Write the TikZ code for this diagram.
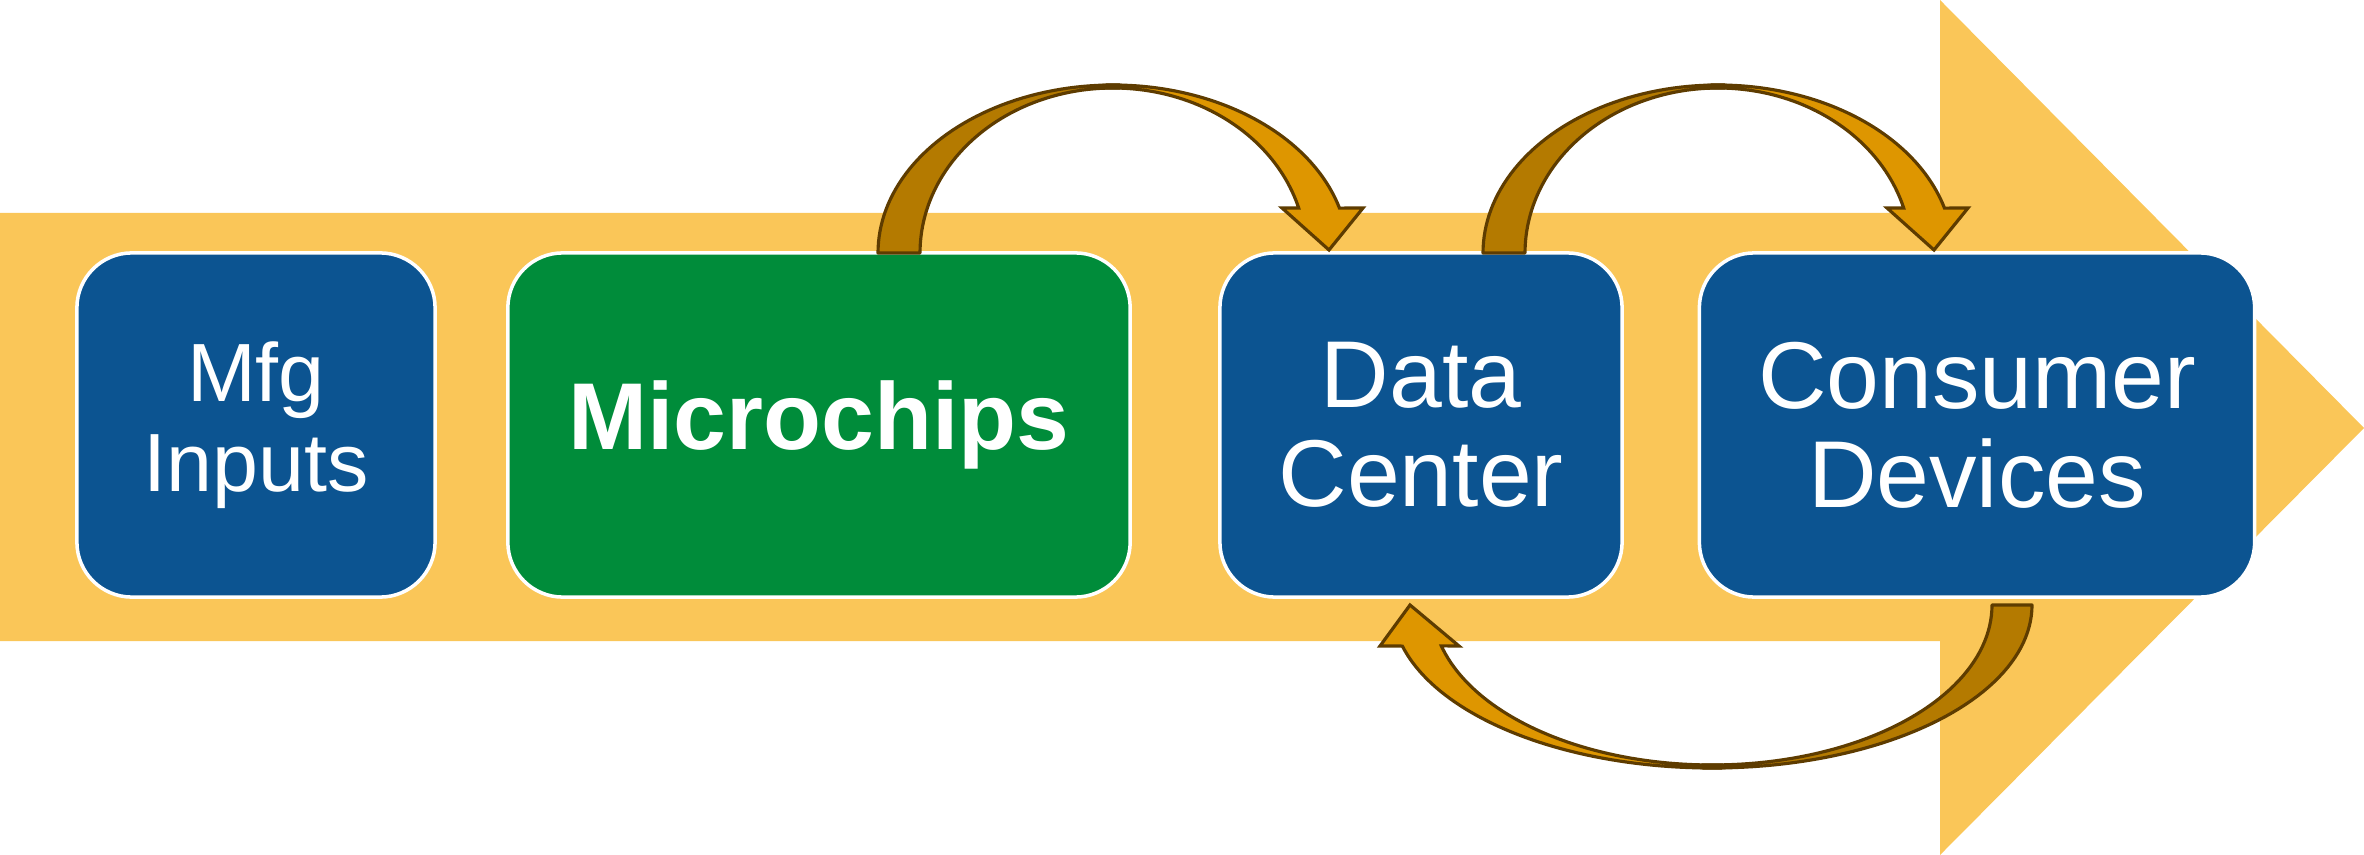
\documentclass[tikz,border=0pt]{standalone}
\usepackage{fontspec}
\setmainfont{Liberation Sans}
\definecolor{bandy}{HTML}{FAC658}
\definecolor{boxblue}{HTML}{0C5491}
\definecolor{boxgreen}{HTML}{008C3A}
\definecolor{arrdark}{HTML}{B47A00}
\definecolor{arrlight}{HTML}{DE9600}
\definecolor{arredge}{HTML}{5E3C00}
\tikzset{
  stagebox/.style={rounded corners=0.55cm, fill=boxblue, draw=white, line width=1pt,
    minimum height=3.44cm, text=white, align=center,
    font=\fontsize{27}{28.2}\selectfont, inner sep=0pt},
  backpart/.style={fill=arrdark, draw=arredge, line width=0.9pt, line join=round},
  frontpart/.style={fill=arrlight, draw=arredge, line width=0.9pt, line join=miter},
}
\begin{document}
\begin{tikzpicture}[x=0.01cm, y=-0.01cm]
\useasboundingbox (0,0) rectangle (2364,855);
% big background arrow
\fill[bandy] (0,213) -- (1940,213) -- (1940,0) -- (2364,428) -- (1940,855) -- (1940,641) -- (0,641) -- cycle;
% stage boxes
\node[stagebox, minimum width=3.58cm, font=\fontsize{23.5}{25.6}\selectfont] (mfg) at (256,425) {Mfg\\Inputs};
\node[stagebox, minimum width=6.22cm, fill=boxgreen, font=\fontsize{27}{28.2}\selectfont\bfseries] (chips) at (819,425) {Microchips};
\node[stagebox, minimum width=4.02cm] (dc) at (1421,425) {Data\\Center};
\node[stagebox, minimum width=5.55cm] (cons) at (1977,425) {Consumer\\Devices};
% top curved arrows
\foreach \s in {0,605}{
  \begin{scope}[xshift=\s*0.01cm]
  \filldraw[backpart] plot[domain=180:88, samples=50] ({1113+235*cos(\x)},{253-168*sin(\x)})
     -- plot[domain=88:180, samples=50] ({1113+193*cos(\x)},{253-165*sin(\x)}) -- cycle;
  \filldraw[frontpart] plot[domain=92:15.5, samples=50] ({1113+235*cos(\x)},{253-168*sin(\x)})
     -- (1363,208) -- (1329,250) -- (1282,208)
     -- plot[domain=15.8:92, samples=50] ({1113+193*cos(\x)},{253-165*sin(\x)}) -- cycle;
  \end{scope}
}
% bottom curved arrow
\filldraw[backpart] plot[domain=0:92, samples=50] ({1712+320*cos(\x)},{605+163*sin(\x)})
   -- plot[domain=92:0, samples=50] ({1712+280*cos(\x)},{605+160*sin(\x)}) -- cycle;
\filldraw[frontpart] plot[domain=88:165.4, samples=50] ({1712+320*cos(\x)},{605+163*sin(\x)})
   -- (1380,646) -- (1410,605) -- (1459,646)
   -- plot[domain=165.2:88, samples=50] ({1712+280*cos(\x)},{605+160*sin(\x)}) -- cycle;
\end{tikzpicture}
\end{document}
